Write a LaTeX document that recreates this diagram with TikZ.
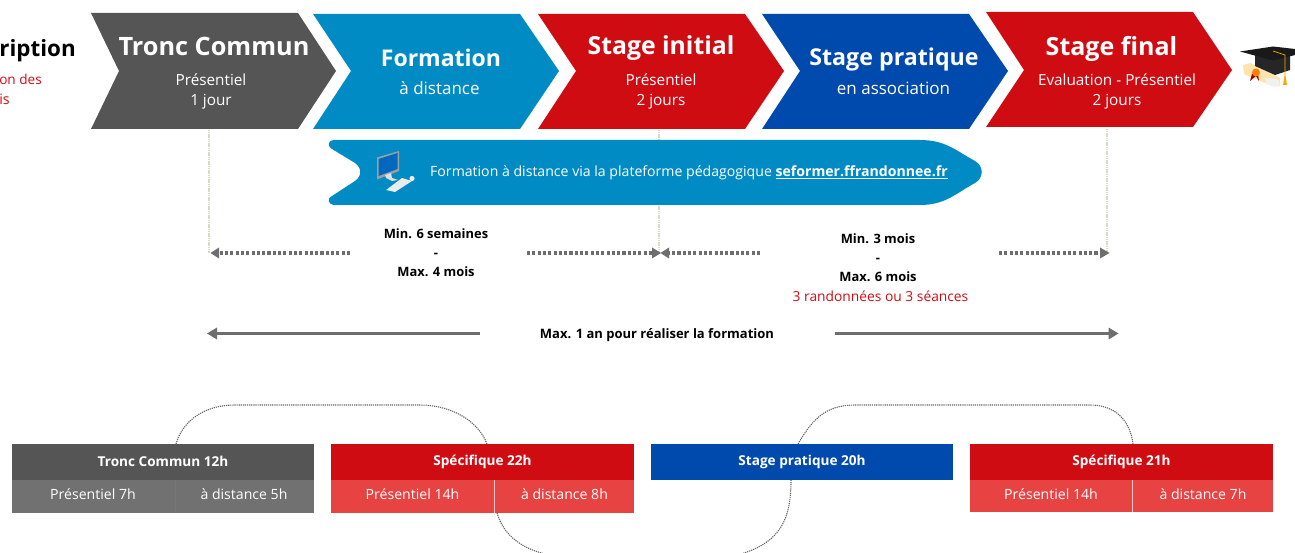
\documentclass[tikz,border=0pt]{standalone}
\usepackage{fontspec}
\setmainfont{Open Sans}
\definecolor{grisF}{HTML}{555555}
\definecolor{grisC}{HTML}{717171}
\definecolor{bleuF}{HTML}{008BC4}
\definecolor{rougeF}{HTML}{D00C13}
\definecolor{rougeC}{HTML}{E84343}
\definecolor{bleuS}{HTML}{004AAD}
\definecolor{fleche}{HTML}{6E6E6E}
\definecolor{kaki}{HTML}{D9D9C4}
\begin{document}
\begin{tikzpicture}[x=1pt,y=-1pt,
  titre/.style={text=white,font=\fontsize{#1}{28}\bfseries\selectfont,anchor=center,inner sep=0},
  titre/.default=25,
  sous/.style={text=white,font=\fontsize{#1}{20}\selectfont,align=center,anchor=center,inner sep=0},
  sous/.default=15.3,
  noir/.style={text=black,font=\fontsize{12.9}{19}\selectfont,align=center,anchor=center,inner sep=0},
  tete/.style={text=white,font=\fontsize{13.6}{16}\bfseries\selectfont,anchor=center,inner sep=0},
  cell/.style={text=white,font=\fontsize{14.1}{16}\selectfont,anchor=center,inner sep=0},
  duree/.style={fleche,line width=3.2pt,dash pattern=on 3.1pt off 2.2pt},
  plein/.style={fleche,line width=2.4pt},
  repere/.style={kaki,line width=1.3pt,dash pattern=on 1.2pt off .6pt},
  boucle/.style={black!60,line width=1.1pt,dash pattern=on 1.2pt off .9pt},
  pointe/.style={fleche}]
\useasboundingbox (0,0) rectangle (1295,553);
\clip (0,0) rectangle (1295,553);
% reperes
\coordinate (r1h) at (209,130); \coordinate (r1b) at (209,253);
\coordinate (r2h) at (659,130); \coordinate (r2b) at (659,253);
\coordinate (r3h) at (1107,129); \coordinate (r3b) at (1107,253);
\draw[repere] (r1h)--(r1b);
\draw[repere] (r2h)--(r2b);
\draw[repere] (r3h)--(r3b);
% chevrons
\fill[grisF] (91,13)--(298,13)--(336,71)--(298,129)--(91,129)--(119,71)--cycle;
\fill[bleuF] (313,14)--(520,14)--(559,71)--(520,129)--(313,129)--(351,71)--cycle;
\fill[rougeF] (538,14)--(745,14)--(784,71)--(745,129)--(538,129)--(576,71)--cycle;
\fill[bleuS] (762,14)--(969,14)--(1008,71)--(969,129)--(762,129)--(800,71)--cycle;
\fill[rougeF] (986,12)--(1193,12)--(1232,70)--(1193,127)--(986,127)--(1024,70)--cycle;
\node[titre=25.3] (t1) at (214,46.5) {Tronc Commun};
\node[sous] (s1) at (211,91) {Présentiel\\1 jour};
\node[titre=23] (t2) at (441,58) {Formation};
\node[sous=17] (s2) at (439.5,88) {à distance};
\node[titre=24.8] (t3) at (661,48) {Stage initial};
\node[sous] (s3) at (661,91) {Présentiel\\2 jours};
\node[titre=23.2] (t4) at (894,59.5) {Stage pratique};
\node[sous=17] (s4) at (893.5,88) {en association};
\node[titre] (t5) at (1111.5,48.5) {Stage final};
\node[sous] (s5) at (1117,91) {Evaluation - Présentiel\\2 jours};
% inscription (coupe)
\node[anchor=east,inner sep=0,font=\fontsize{22.4}{28}\bfseries\selectfont] (ins) at (76,50.5) {ription};
\node[anchor=east,inner sep=0,text=rougeF,font=\fontsize{13.6}{20}\selectfont] (ins2) at (42,79) {on des};
\node[anchor=east,inner sep=0,text=rougeF,font=\fontsize{14.3}{20}\selectfont] (ins3) at (10,99) {is};
% toque
\fill[yellow!35!orange!30] (1243,65)--(1250,63)--(1280,78)--(1280,86)--(1273,86.5)--(1244,74)--cycle;
\fill[gray!12] (1265,78)--(1278,79)--(1280,85)--(1274,86.5)--(1266,84)--cycle;
\fill[black!85] (1255,53)--(1290,53)--(1290,70)--(1275,75)--(1255,66)--cycle;
\fill[black!90] (1240,51.5)--(1273,46.5)--(1295,49)--(1295,55)--(1273,60.5)--cycle;
\draw[orange!70!yellow,line width=.7pt] (1273,51)--(1285,55)--(1285,75);
\fill[orange!70!yellow] (1285,73)--(1287,85)--(1283,85)--cycle;
\fill[red!60!black] (1252,74)--(1250,81)--(1256,76)--(1259,81)--(1258,74)--cycle;
\fill[orange] (1256,72.5) circle (4pt);
% bandeau
\fill[bleuF] (334,140)--(920,140) .. controls (945,140) and (955,150) .. (975,161) .. controls (984,166) and (984,178) .. (975,183) .. controls (955,194) and (945,205) .. (920,205)--(334,205) .. controls (329,205) and (326,199) .. (332,196)--(355,181) .. controls (362,176) and (362,168) .. (355,163)--(332,149) .. controls (326,145) and (329,140) .. (334,140)--cycle;
% ordinateur
\fill[gray!75] (377,157.5)--(399,151)--(399,171)--(377,179.5)--cycle;
\fill[blue!45!cyan!75!black] (378.5,159)--(397.5,153)--(397.5,169)--(378.5,176)--cycle;
\fill[gray!25] (385,175)--(391,173)--(392,178)--(398,180)--(392,181)--(386,178)--cycle;
\fill[gray!15] (386,190)--(402,178)--(412,181)--(395,192)--cycle;
\fill[gray!15] (412,178.5) circle (2.6pt);
\node[anchor=west,inner sep=0,text=white,font=\fontsize{14.1}{16}\selectfont] (bt) at (430,173) {Formation à distance via la plateforme pédagogique \textbf{\underline{seformer.ffrandonnee.fr}}};
% durees
\node[noir] (d1) at (436,253) {\textbf{Min. 6 semaines}\\\textbf{-}\\\textbf{Max. 4 mois}};
\node[noir] (d2a) at (878,258) {\textbf{Min. 3 mois}\\\textbf{-}\\\textbf{Max. 6 mois}};
\node[noir,text=rougeF,font=\fontsize{13.8}{19}\selectfont] (d2b) at (880.5,296) {3 randonnées ou 3 séances};
\coordinate (a1) at (350,253); \coordinate (a2) at (527,253);
\coordinate (a3) at (760,253); \coordinate (a4) at (999,253);
\draw[duree] (a1)--(217,253);
\fill[pointe] (210.5,253)--(219,247.5)--(219,258.5)--cycle;
\draw[duree] (a2)--(654,253);
\fill[pointe] (661,253)--(652,247.5)--(652,258.5)--cycle;
\draw[duree] (a3)--(668,253);
\fill[pointe] (660.5,253)--(669,247.5)--(669,258.5)--cycle;
\draw[duree] (a4)--(1102,253);
\fill[pointe] (1109.5,253)--(1100,247.5)--(1100,258.5)--cycle;
\node[noir,font=\fontsize{13}{19}\selectfont] (m) at (657,335) {\textbf{Max. 1 an pour réaliser la formation}};
\coordinate (b1) at (480,333.5); \coordinate (b2) at (835,333.5);
\draw[plein] (b1)--(214,333.5);
\fill[pointe] (207,333.5)--(217,327.5)--(217,339.5)--cycle;
\draw[plein] (b2)--(1112,333.5);
\fill[pointe] (1118.5,333.5)--(1108.5,327.5)--(1108.5,339.5)--cycle;
% boucles
\draw[boucle] (176,444) .. controls (183,420) and (205,405) .. (235,405)--(420,405) .. controls (450,405) and (478,420) .. (487,444);
\draw[boucle] (497,513) .. controls (503,533) and (518,547) .. (545,554);
\draw[boucle] (798,444) .. controls (812,420) and (825,405) .. (855,405)--(1090,405) .. controls (1115,405) and (1130,420) .. (1133,444);
\draw[boucle] (791,480) .. controls (791,520) and (780,542) .. (741,554);
% tableaux
\fill[grisF] (12,444) rectangle (314,480);
\fill[grisC] (12,480) rectangle (314,513);
\draw[grisF!80!white,line width=.5pt] (175,480)--(175,513);
\node[tete] (h1) at (163,461.5) {Tronc Commun 12h};
\node[cell] (c1a) at (93,494.5) {Présentiel 7h};
\node[cell] (c1b) at (244,494.5) {à distance 5h};
\fill[rougeF] (331,444) rectangle (634,480);
\fill[rougeC] (331,480) rectangle (634,513);
\draw[white!70!rougeC,line width=.6pt] (494,480)--(494,513);
\node[tete] (h2) at (482.5,461.5) {Spécifique 22h};
\node[cell] (c2a) at (412.5,494.5) {Présentiel 14h};
\node[cell] (c2b) at (564.5,494.5) {à distance 8h};
\fill[bleuS] (651,444) rectangle (953,480);
\node[tete] (h3) at (802,461.5) {Stage pratique 20h};
\fill[rougeF] (970,444) rectangle (1273,480);
\fill[rougeC] (970,480) rectangle (1273,512);
\draw[white!70!rougeC,line width=.6pt] (1132.5,480)--(1132.5,512);
\node[tete] (h4) at (1121.5,461.5) {Spécifique 21h};
\node[cell] (c4a) at (1051,494) {Présentiel 14h};
\node[cell] (c4b) at (1203,494) {à distance 7h};
\end{tikzpicture}
\end{document}
